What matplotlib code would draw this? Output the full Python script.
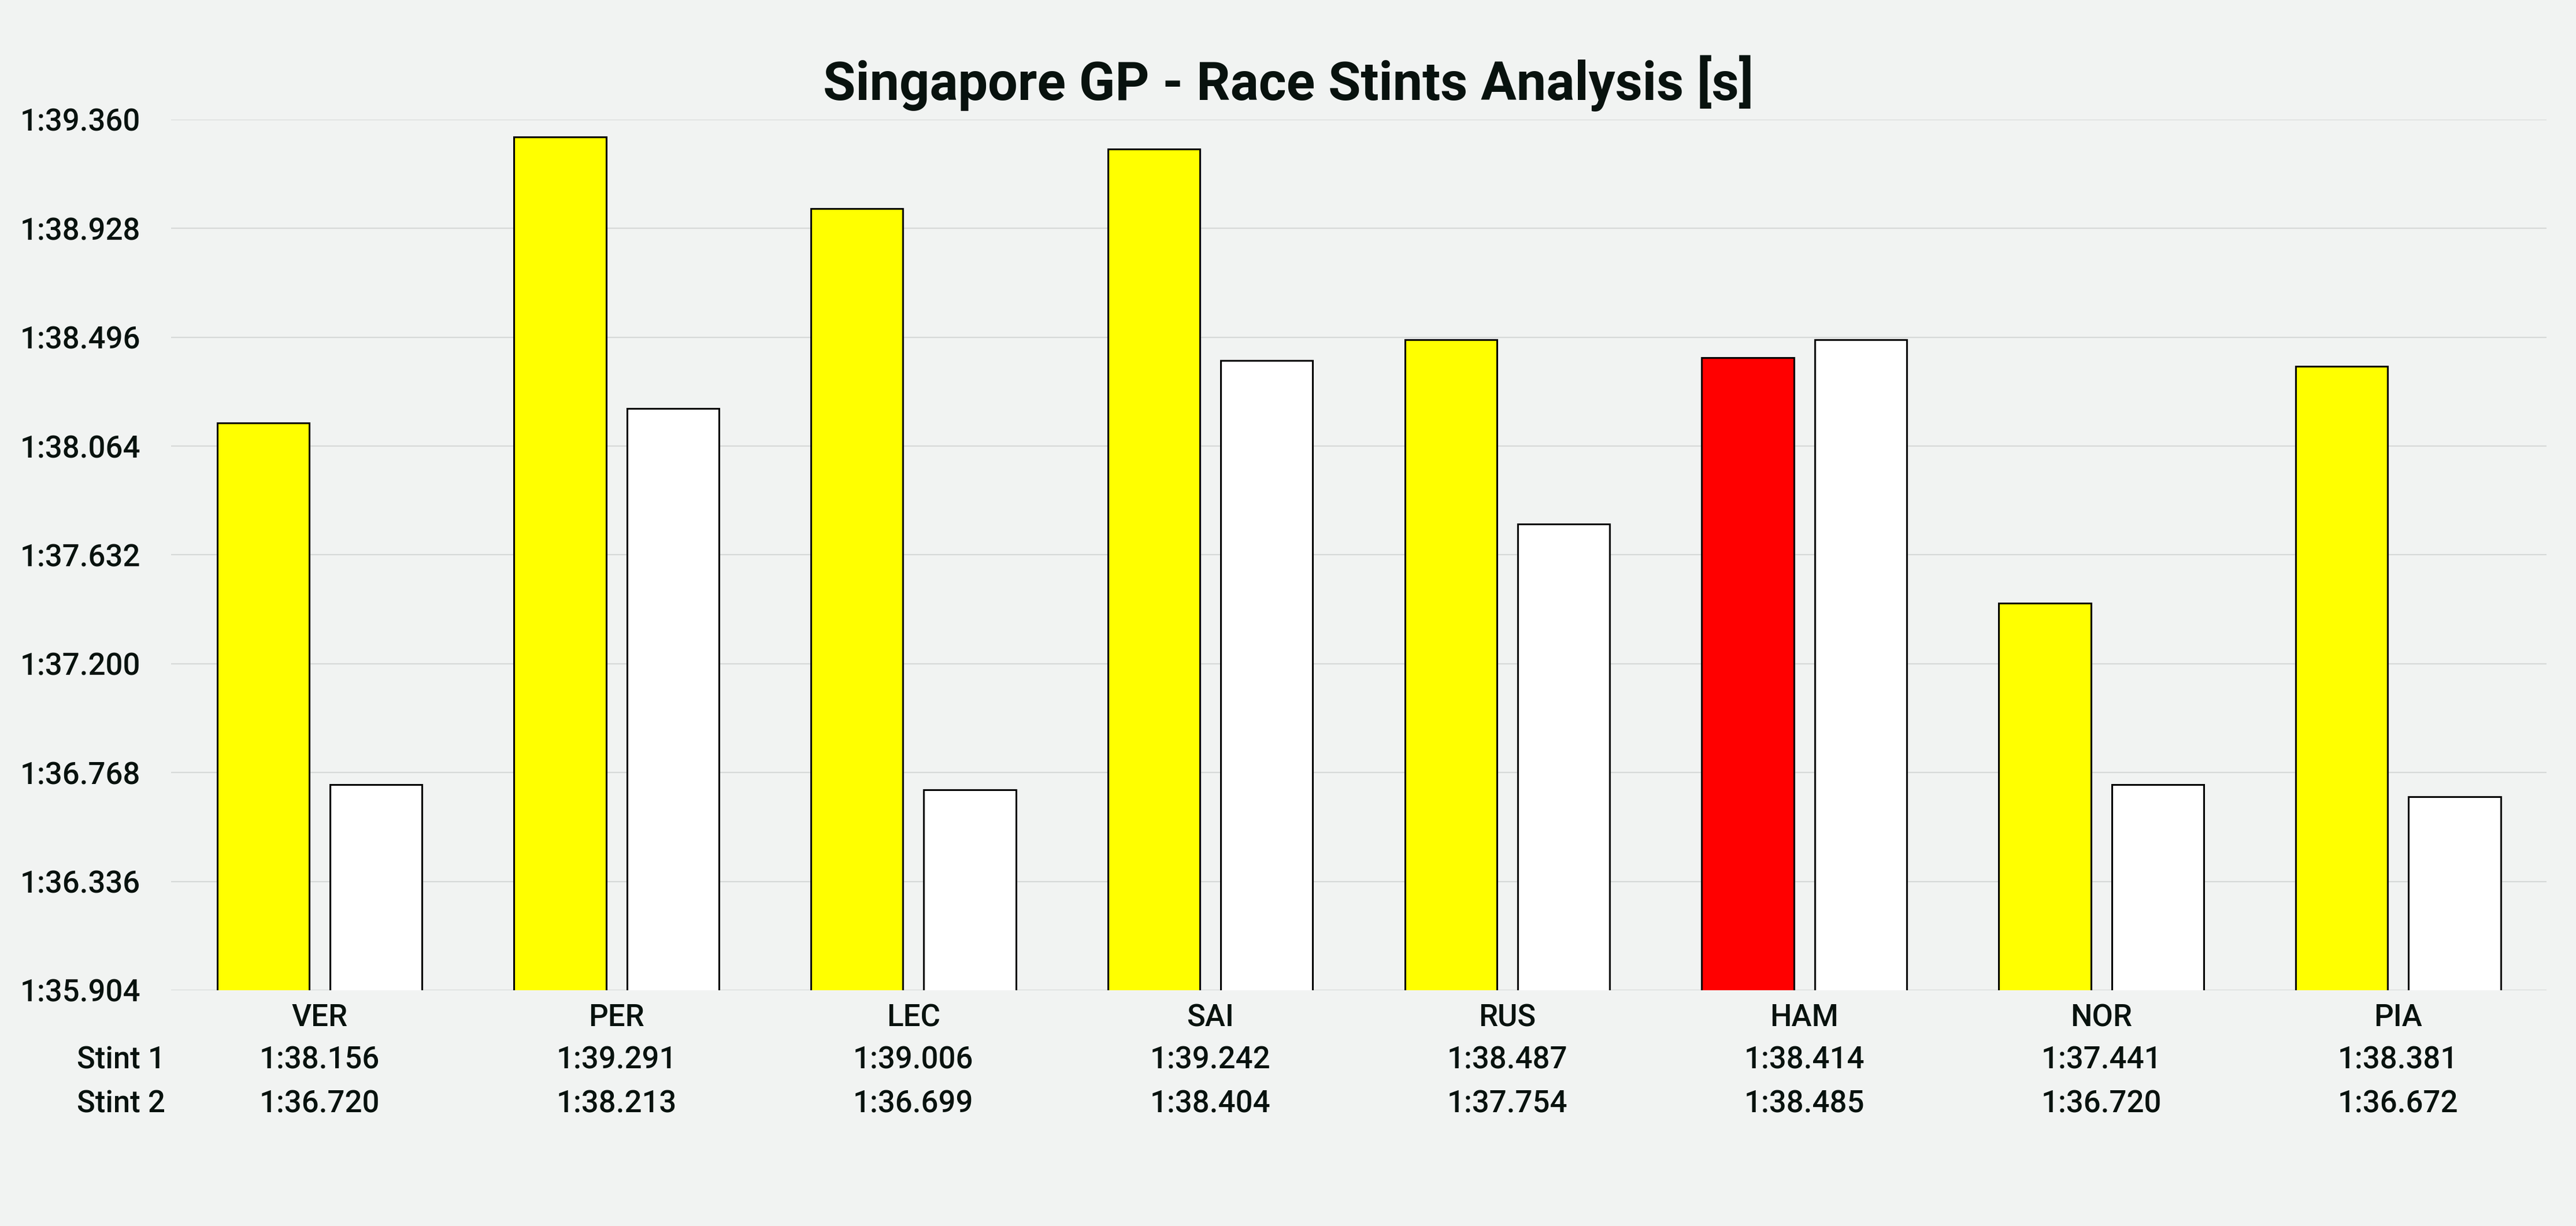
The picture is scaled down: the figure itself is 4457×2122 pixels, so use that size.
import numpy as np
import matplotlib.pyplot as plt
from matplotlib.ticker import FixedLocator, FuncFormatter

drivers = ["VER", "PER", "LEC", "SAI", "RUS", "HAM", "NOR", "PIA"]
stint1 = [98.156, 99.291, 99.006, 99.242, 98.487, 98.414, 97.441, 98.381]
stint2 = [96.720, 98.213, 96.699, 98.404, 97.754, 98.485, 96.720, 96.672]
stint1_colors = ["#ffff00", "#ffff00", "#ffff00", "#ffff00", "#ffff00", "#ff0000", "#ffff00", "#ffff00"]
stint2_colors = ["#ffffff"] * 8
yticks = [95.904, 96.336, 96.768, 97.200, 97.632, 98.064, 98.496, 98.928, 99.360]

bg = "#f1f3f2"
txt = "#08120e"

plt.rcParams['font.family'] = ['Roboto', 'DejaVu Sans']
plt.rcParams['font.weight'] = 'medium'


def laptime(v, pos=None):
    m = int(v // 60)
    s = v - 60 * m
    return "%d:%06.3f" % (m, s)


fig = plt.figure(figsize=[22.285, 10.61], dpi=200, facecolor=bg)
ax = fig.add_axes([0.0664, 0.1923, 0.9222, 0.7102])
ax.set_facecolor(bg)

x = np.arange(len(drivers))
ax.bar(x - 0.19, stint1, width=0.31, color=stint1_colors, edgecolor="black", linewidth=1.1, zorder=3)
ax.bar(x + 0.19, stint2, width=0.31, color=stint2_colors, edgecolor="black", linewidth=1.1, zorder=3)

ax.set_ylim(yticks[0], yticks[-1])
ax.set_xlim(-0.5, len(drivers) - 0.5)
ax.yaxis.set_major_locator(FixedLocator(yticks))
ax.yaxis.set_major_formatter(FuncFormatter(laptime))
ax.grid(True, axis="y", color="#d6d9d8", linewidth=0.8, zorder=0)
ax.set_axisbelow(True)
for sp in ax.spines.values():
    sp.set_visible(False)
ax.tick_params(axis="y", length=0, pad=19, labelsize=19, labelcolor=txt)
ax.set_xticks(x)
ax.set_xticklabels(drivers)
ax.tick_params(axis="x", length=0, pad=8, labelsize=19, labelcolor=txt)

# table of stint times under the axis
rows = [("Stint 1", stint1, -0.0800), ("Stint 2", stint2, -0.1305)]
for name, vals, yy in rows:
    fig.text(0.0298, ax.transAxes.transform((0, yy))[1] / fig.bbox.height, name,
             ha="left", va="center", fontsize=19, color=txt)
    for i, v in enumerate(vals):
        ax.text(i, yy, laptime(v), transform=ax.get_xaxis_transform(),
                ha="center", va="center", fontsize=19, color=txt)

fig.suptitle("Singapore GP - Race Stints Analysis [s]", y=0.955, fontsize=33,
             fontweight="bold", color=txt)

plt.savefig("out.png", dpi=200, facecolor=bg)
